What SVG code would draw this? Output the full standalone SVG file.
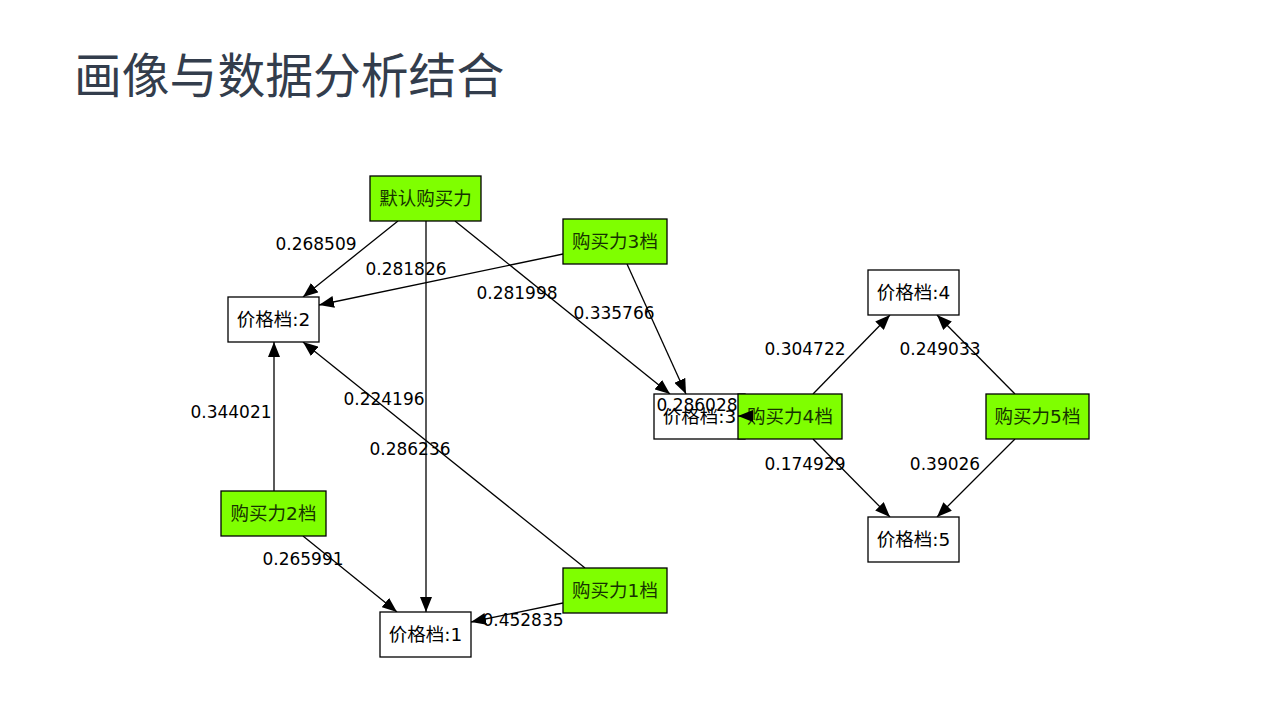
<svg xmlns="http://www.w3.org/2000/svg" width="1280" height="720" viewBox="0 0 1280 720">
<style>
.title{font-family:"Noto Sans CJK SC","Noto Sans",sans-serif;font-size:47.8px;fill:#333d4c}
.nb{fill:#ffffff;stroke:#000;stroke-width:1.3}
.ng{fill:#7fff00;stroke:#000;stroke-width:1.3}
.nt{font-family:"DejaVu Sans","Noto Sans CJK SC",sans-serif;font-size:18.5px;fill:#000;text-anchor:middle;dominant-baseline:central}
.gt{fill:#163300}
.e{stroke:#000;stroke-width:1.3;fill:none;marker-end:url(#ah)}
.lb{font-family:"DejaVu Sans",sans-serif;font-size:17px;fill:#000;text-anchor:middle;dominant-baseline:central}
</style>
<defs>
<marker id="ah" markerWidth="15" markerHeight="12" refX="15" refY="6" orient="auto" markerUnits="userSpaceOnUse">
<path d="M0,0 L15,6 L0,12 Z" fill="#000"/>
</marker>
</defs>
<rect width="1280" height="720" fill="#ffffff"/>
<text class="title" x="74" y="93">画像与数据分析结合</text>

<g id="connectors">
<line class="e" x1="398" y1="221" x2="303" y2="297"/>
<line class="e" x1="426" y1="221" x2="426" y2="612"/>
<line class="e" x1="455" y1="221" x2="670" y2="394"/>
<line class="e" x1="563" y1="254" x2="319" y2="305"/>
<line class="e" x1="627" y1="264" x2="686" y2="394"/>
<line class="e" x1="274" y1="491" x2="274" y2="342"/>
<line class="e" x1="585" y1="568" x2="303" y2="342"/>
<line class="e" x1="303" y1="536" x2="397" y2="612"/>
<line class="e" x1="563" y1="603" x2="471" y2="622"/>
<line class="e" x1="813" y1="394" x2="890" y2="315"/>
<line class="e" x1="1015" y1="394" x2="937" y2="315"/>
<line class="e" x1="813" y1="439" x2="890" y2="517"/>
<line class="e" x1="1015" y1="439" x2="937" y2="517"/>
</g>

<g id="n-price2"><rect class="nb" x="228" y="297" width="91" height="45"/><text class="nt" x="273.5" y="319.5">价格档:2</text></g>
<g id="n-price1"><rect class="nb" x="380" y="612" width="91" height="45"/><text class="nt" x="425.5" y="634.5">价格档:1</text></g>
<g id="n-price3"><rect class="nb" x="654" y="394" width="91" height="45"/><text class="nt" x="699.5" y="416.5">价格档:3</text></g>
<g id="n-price4"><rect class="nb" x="868" y="270" width="91" height="45"/><text class="nt" x="913.5" y="292.5">价格档:4</text></g>
<g id="n-price5"><rect class="nb" x="868" y="517" width="91" height="45"/><text class="nt" x="913.5" y="539.5">价格档:5</text></g>
<g id="n-default"><rect class="ng" x="370" y="176" width="111" height="45"/><text class="nt gt" x="425.5" y="198.5">默认购买力</text></g>
<g id="n-buy3"><rect class="ng" x="563" y="219" width="104" height="45"/><text class="nt gt" x="615" y="241.5">购买力3档</text></g>
<g id="n-buy2"><rect class="ng" x="221" y="491" width="105" height="45"/><text class="nt gt" x="273.5" y="513.5">购买力2档</text></g>
<g id="n-buy1"><rect class="ng" x="563" y="568" width="104" height="45"/><text class="nt gt" x="615" y="590.5">购买力1档</text></g>
<g id="n-buy4"><rect class="ng" x="738" y="394" width="104" height="45"/><text class="nt gt" x="790" y="416.5">购买力4档</text></g>
<g id="n-buy5"><rect class="ng" x="986" y="394" width="103" height="45"/><text class="nt gt" x="1037.5" y="416.5">购买力5档</text></g>

<g id="connector-extra">
<line class="e" x1="753" y1="416" x2="738" y2="416"/>
</g>

<g id="labels">
<text class="lb" x="316" y="244">0.268509</text>
<text class="lb" x="406" y="269">0.281826</text>
<text class="lb" x="517" y="293">0.281998</text>
<text class="lb" x="614" y="313">0.335766</text>
<text class="lb" x="231" y="412">0.344021</text>
<text class="lb" x="384" y="399">0.224196</text>
<text class="lb" x="410" y="449">0.286236</text>
<text class="lb" x="303" y="559">0.265991</text>
<text class="lb" x="523" y="620">0.452835</text>
<text class="lb" x="697" y="405">0.286028</text>
<text class="lb" x="805" y="349">0.304722</text>
<text class="lb" x="940" y="349">0.249033</text>
<text class="lb" x="805" y="464">0.174929</text>
<text class="lb" x="945" y="464">0.39026</text>
</g>
</svg>
